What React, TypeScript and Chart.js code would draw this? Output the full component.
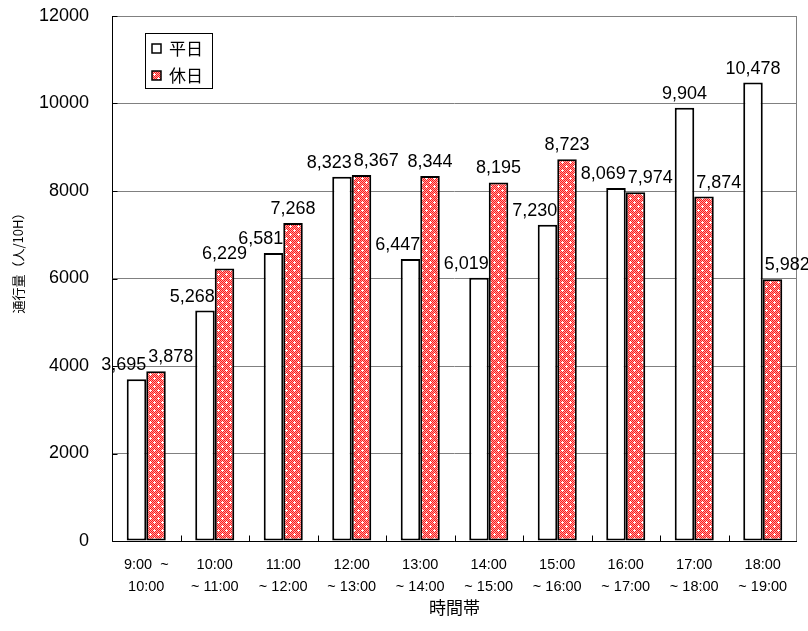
import React, { useEffect, useRef } from "react";
import { Chart, registerables } from "chart.js";

Chart.register(...registerables);

const categories: string[][] = [
  ["9:00  ~", "10:00"],
  ["10:00", "~ 11:00"],
  ["11:00", "~ 12:00"],
  ["12:00", "~ 13:00"],
  ["13:00", "~ 14:00"],
  ["14:00", "~ 15:00"],
  ["15:00", "~ 16:00"],
  ["16:00", "~ 17:00"],
  ["17:00", "~ 18:00"],
  ["18:00", "~ 19:00"],
];
const weekdayValues = [3695, 5268, 6581, 8323, 6447, 6019, 7230, 8069, 9904, 10478];
const holidayValues = [3878, 6229, 7268, 8367, 8344, 8195, 8723, 7974, 7874, 5982];
const seriesNames = ["平日", "休日"];
const yMin = 0;
const yMax = 12000;
const yStep = 2000;
const xTitle = "時間帯";
const yTitle = "通行量（人/10H）";

const LATIN = "'Liberation Sans', Arial, 'Noto Sans CJK JP', sans-serif";
const CJK = "'Noto Sans CJK JP', 'Liberation Sans', sans-serif";

function makePattern(): CanvasPattern | string {
  const c = document.createElement("canvas");
  c.width = 8;
  c.height = 8;
  const g = c.getContext("2d");
  if (!g) return "#ff5555";
  for (let y = 0; y < 8; y++) {
    for (let x = 0; x < 8; x++) {
      g.fillStyle = (x + y) % 2 === 0 ? "#ff1a1a" : "#ffa0a0";
      g.fillRect(x, y, 1, 1);
    }
  }
  g.fillStyle = "#ffffff";
  const cross = (cx: number, cy: number) => {
    g.fillRect(cx - 1, cy, 3, 1);
    g.fillRect(cx, cy - 1, 1, 3);
  };
  cross(2, 2);
  cross(6, 6);
  return g.createPattern(c, "repeat") || "#ff5555";
}

const decorPlugin = {
  id: "decor",
  afterDatasetsDraw(chart: any) {
    const { ctx, chartArea: a, scales } = chart;
    const xs = scales.x;
    const ys = scales.y;
    ctx.save();

    ctx.strokeStyle = "#808080";
    ctx.lineWidth = 1;
    const rx = Math.round(a.right) - 0.5;
    ctx.beginPath();
    ctx.moveTo(rx, a.top);
    ctx.lineTo(rx, a.bottom);
    ctx.stroke();

    ctx.strokeStyle = "#000000";
    const lx = Math.round(a.left) + 0.5;
    const by = Math.round(a.bottom) + 0.5;
    ctx.beginPath();
    ctx.moveTo(lx, Math.round(a.top));
    ctx.lineTo(lx, by);
    ctx.lineTo(a.right, by);
    ctx.stroke();

    ys.ticks.forEach((t: any) => {
      const py = Math.round(ys.getPixelForValue(t.value)) + 0.5;
      ctx.beginPath();
      ctx.moveTo(lx, py);
      ctx.lineTo(lx + 5, py);
      ctx.stroke();
    });

    const n = chart.data.labels.length;
    for (let i = 1; i < n; i++) {
      const px = Math.round((xs.getPixelForValue(i - 1) + xs.getPixelForValue(i)) / 2) + 0.5;
      ctx.beginPath();
      ctx.moveTo(px, by);
      ctx.lineTo(px, by - 6);
      ctx.stroke();
    }

    const d0 = chart.data.datasets[0].data as number[];
    const d1 = chart.data.datasets[1].data as number[];
    const m0 = chart.getDatasetMeta(0);
    const m1 = chart.getDatasetMeta(1);
    ctx.fillStyle = "#000000";
    ctx.font = `18px ${LATIN}`;
    ctx.textBaseline = "alphabetic";
    for (let i = 0; i < n; i++) {
      const v0 = d0[i];
      const v1 = d1[i];
      const b0 = m0.data[i].getProps(["x", "y", "width"], true);
      const b1 = m1.data[i].getProps(["x", "y", "width"], true);
      const close = Math.abs(v0 - v1) < 300;
      if (v0 < v1 || close) {
        ctx.textAlign = "right";
        ctx.fillText(v0.toLocaleString("en-US"), b0.x + b0.width / 2, b0.y - 9);
      } else {
        ctx.textAlign = "center";
        ctx.fillText(v0.toLocaleString("en-US"), b0.x, b0.y - 9);
      }
      if (v1 < v0 || close) {
        ctx.textAlign = "left";
        ctx.fillText(v1.toLocaleString("en-US"), b1.x - b1.width / 2 + 2, b1.y - 9);
      } else {
        ctx.textAlign = "center";
        ctx.fillText(v1.toLocaleString("en-US"), b1.x, b1.y - 9);
      }
    }

    ctx.fillStyle = "#ffffff";
    ctx.fillRect(145, 33, 67, 55);
    ctx.strokeStyle = "#000000";
    ctx.lineWidth = 1;
    ctx.strokeRect(145.5, 33.5, 67, 55);
    const rows = [49, 76];
    chart.data.datasets.forEach((ds: any, i: number) => {
      const cy = rows[i];
      ctx.fillStyle = ds.backgroundColor;
      ctx.fillRect(152, cy - 5, 9, 9);
      ctx.strokeStyle = "#000000";
      ctx.lineWidth = 1.5;
      ctx.strokeRect(152, cy - 5, 9, 9);
      ctx.fillStyle = "#000000";
      ctx.font = `17px ${CJK}`;
      ctx.textAlign = "left";
      ctx.textBaseline = "middle";
      ctx.fillText(ds.label, 169, cy);
    });

    ctx.fillStyle = "#000000";
    ctx.font = `17px ${CJK}`;
    ctx.textAlign = "center";
    ctx.textBaseline = "middle";
    ctx.fillText(xTitle, (a.left + a.right) / 2, 608);

    ctx.save();
    ctx.translate(18, 260);
    ctx.rotate(-Math.PI / 2);
    ctx.font = `13px ${CJK}`;
    ctx.fillText(yTitle, 0, 0);
    ctx.restore();

    ctx.restore();
  },
};

export default function App() {
  const ref = useRef<HTMLCanvasElement | null>(null);

  useEffect(() => {
    if (!ref.current) return;
    const pattern = makePattern();
    const chart = new Chart(ref.current, {
      type: "bar",
      data: {
        labels: categories,
        datasets: [
          {
            label: seriesNames[0],
            data: weekdayValues,
            backgroundColor: "#ffffff",
            borderColor: "#000000",
            borderWidth: 2,
            borderSkipped: false,
            categoryPercentage: 0.57,
            barPercentage: 1.0,
          },
          {
            label: seriesNames[1],
            data: holidayValues,
            backgroundColor: pattern as any,
            borderColor: "#000000",
            borderWidth: 2,
            borderSkipped: false,
            categoryPercentage: 0.57,
            barPercentage: 1.0,
          },
        ],
      },
      options: {
        responsive: false,
        animation: false,
        devicePixelRatio: 1,
        layout: { padding: { left: 0, right: 11, top: 0, bottom: 0 } },
        plugins: {
          legend: { display: false },
          tooltip: { enabled: false },
          title: { display: false },
        },
        scales: {
          x: {
            type: "category",
            offset: true,
            grid: { display: false, drawTicks: false },
            border: { display: false },
            ticks: {
              color: "#000000",
              autoSkip: false,
              maxRotation: 0,
              minRotation: 0,
              padding: 13,
              font: { family: LATIN, size: 14.5, lineHeight: "22px" as any },
            },
            afterFit: (s: any) => {
              s.height = 90;
              s.paddingLeft = 0;
              s.paddingRight = 0;
            },
          },
          y: {
            type: "linear",
            min: yMin,
            max: yMax,
            ticks: {
              stepSize: yStep,
              color: "#000000",
              padding: 23,
              font: { family: LATIN, size: 18 },
              callback: (v: any) => String(v),
            },
            grid: { color: "#808080", lineWidth: 1, drawTicks: false },
            border: { display: false },
            afterFit: (s: any) => {
              s.width = 112;
              s.paddingTop = 16;
              s.paddingBottom = 0;
            },
          },
        },
      },
      plugins: [decorPlugin],
    });
    return () => chart.destroy();
  }, []);

  return (
    <div style={{ position: "absolute", left: 0, top: 0, width: 808, height: 631, background: "#ffffff" }}>
      <canvas ref={ref} width={808} height={631} style={{ display: "block" }} />
    </div>
  );
}
